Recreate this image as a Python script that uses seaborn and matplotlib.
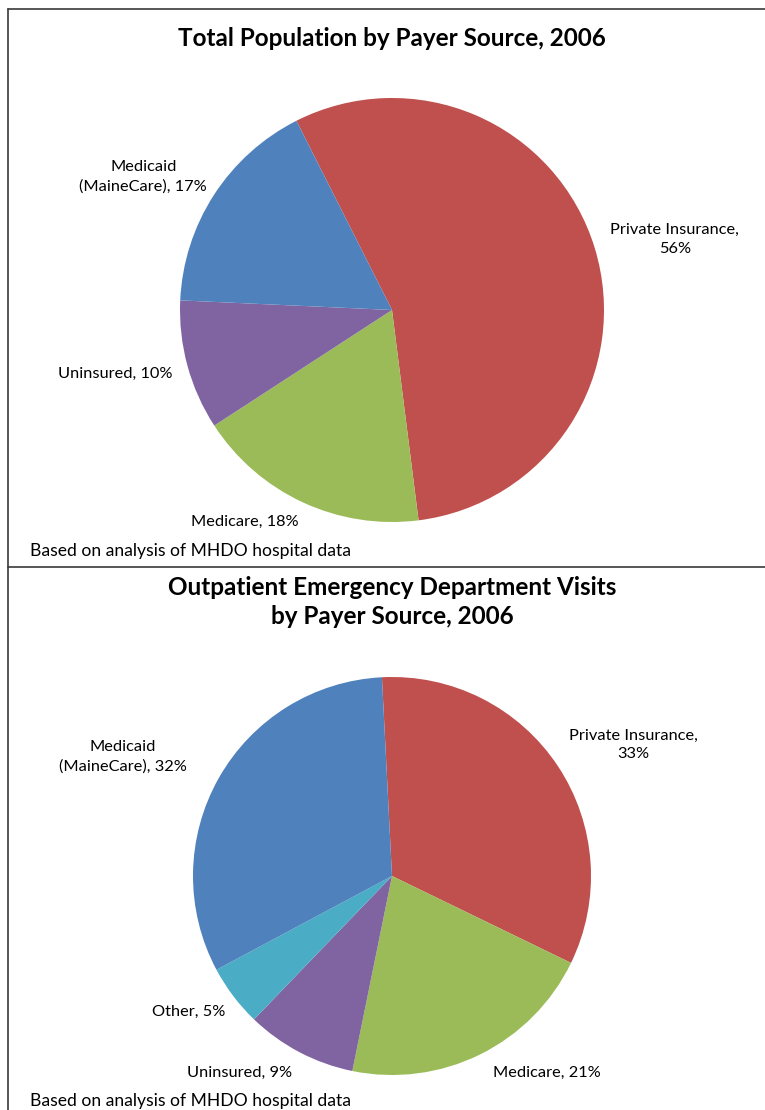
import numpy as np
import matplotlib
matplotlib.use("Agg")
import matplotlib.pyplot as plt
from matplotlib.lines import Line2D
import seaborn as sns

# ---- data ----
top_title = "Total Population by Payer Source, 2006"
top_labels = ["Private Insurance,\n56%", "Medicare, 18%", "Uninsured, 10%", "Medicaid\n(MaineCare), 17%"]
top_values = [56, 18, 10, 17]

bot_title = "Outpatient Emergency Department Visits\nby Payer Source, 2006"
bot_labels = ["Private Insurance,\n33%", "Medicare, 21%", "Uninsured, 9%", "Other, 5%", "Medicaid\n(MaineCare), 32%"]
bot_values = [33, 21, 9, 5, 32]

footnote = "Based on analysis of MHDO hospital data"

# ---- style ----
sns.set_theme(style="white")
plt.rcParams['font.family'] = ['Lato', 'DejaVu Sans']

pal = {"Private": "#C0504D", "Medicare": "#9BBB59", "Uninsured": "#8064A2",
       "Medicaid": "#4F81BD", "Other": "#4BACC6"}
top_colors = [pal["Private"], pal["Medicare"], pal["Uninsured"], pal["Medicaid"]]
bot_colors = [pal["Private"], pal["Medicare"], pal["Uninsured"], pal["Other"], pal["Medicaid"]]

W, H = 765, 1110
fig = plt.figure(figsize=(W / 100, H / 100), dpi=100)
fig.patch.set_facecolor("white")

LAB_FS = 11.8
TITLE_FS = 17.5
FOOT_FS = 12.6


def pie_axes(cx, cy, r):
    return fig.add_axes([(cx - r) / W, 1 - (cy + r) / H, 2 * r / W, 2 * r / H])


def draw_pie(ax, values, colors, labels, start, lab_pos):
    wedges, _ = ax.pie(values, colors=colors, startangle=start, counterclock=False,
                       radius=1, wedgeprops=dict(linewidth=0))
    ax.set_xlim(-1, 1)
    ax.set_ylim(-1, 1)
    ax.axis("off")
    for w, lab, (dang, dist) in zip(wedges, labels, lab_pos):
        mid = np.deg2rad((w.theta1 + w.theta2) / 2 + dang)
        ax.text(dist * np.cos(mid), dist * np.sin(mid), lab, ha="center", va="center",
                multialignment="center", fontsize=LAB_FS, color="black", clip_on=False,
                linespacing=1.45)


# top pie
ax1 = pie_axes(392, 310, 212)
draw_pie(ax1, top_values, top_colors, top_labels, 116.8,
         [(-3.0, 1.375), (-9.8, 1.217), (-2.2, 1.341), (4.8, 1.33)])

# bottom pie
ax2 = pie_axes(392, 876, 199)
draw_pie(ax2, bot_values, bot_colors, bot_labels, 92.9,
         [(-5.0, 1.38), (11.9, 1.26), (-10.0, 1.25), (-3.4, 1.23), (5.6, 1.48)])

# titles
fig.text(392 / W, 1 - 38 / H, top_title, ha="center", va="center",
         fontsize=TITLE_FS, fontweight="bold", color="black")
fig.text(392 / W, 1 - 602 / H, bot_title, ha="center", va="center",
         fontsize=TITLE_FS, fontweight="bold", color="black", linespacing=1.35)

# footnotes
fig.text(30 / W, 1 - 551 / H, footnote, ha="left", va="center", fontsize=FOOT_FS, color="black")
fig.text(30 / W, 1 - 1101 / H, footnote, ha="left", va="center", fontsize=FOOT_FS, color="black")

# borders
lc = "#3a3a3a"
fig.add_artist(Line2D([8 / W, 8 / W], [0, 1 - 8.5 / H], color=lc, lw=1.2))
fig.add_artist(Line2D([8 / W, 1], [1 - 8.5 / H, 1 - 8.5 / H], color=lc, lw=1.2))
fig.add_artist(Line2D([8 / W, 1], [1 - 567 / H, 1 - 567 / H], color=lc, lw=1.2))

fig.savefig("out.png", dpi=100, facecolor="white")
